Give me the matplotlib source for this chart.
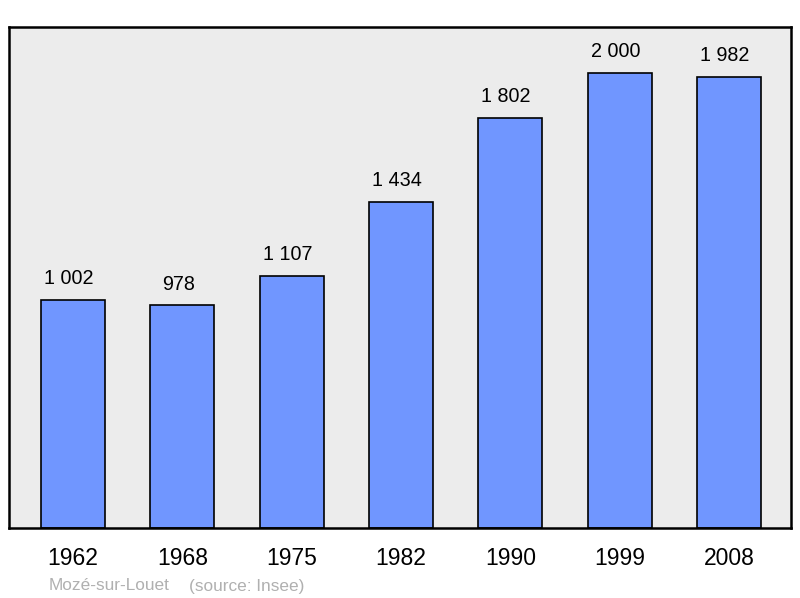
import matplotlib
matplotlib.use('Agg')
from matplotlib import pyplot as plt

years = ['1962', '1968', '1975', '1982', '1990', '1999', '2008']
population = [1002, 978, 1107, 1434, 1802, 2000, 1982]
value_labels = ['1 002', '978', '1 107', '1 434', '1 802', '2 000', '1 982']

plt.rcParams['font.family'] = ['Liberation Sans', 'DejaVu Sans']

fig = plt.figure(figsize=(8, 5.98), dpi=100)
ax = fig.add_axes([0.01125, 0.1171, 0.9775, 0.8377])
ax.set_facecolor('#ececec')

x = list(range(len(years)))
ax.bar(x, population, width=0.585, color='#7096ff', edgecolor='black', linewidth=1.2, zorder=2)

for xi, val, lab in zip(x, population, value_labels):
    ax.annotate(lab, (xi, val), xytext=(-3, 11.5), textcoords='offset points',
                ha='center', va='baseline', fontsize=14.2)

ax.set_xlim(-0.585, 6.567)
ax.set_ylim(0, 2202)
ax.set_xticks(x)
ax.set_xticklabels(years, fontsize=16.5)
ax.tick_params(axis='x', length=0, pad=14)
ax.set_yticks([])
for s in ax.spines.values():
    s.set_linewidth(1.8)

fig.text(49 / 800, 1 - 586 / 598, 'Mozé-sur-Louet', color='#b0b0b0', fontsize=12.4, va='center')
fig.text(189 / 800, 1 - 586 / 598, '(source: Insee)', color='#b0b0b0', fontsize=12.4, va='center')

fig.savefig('out.png', dpi=100)
